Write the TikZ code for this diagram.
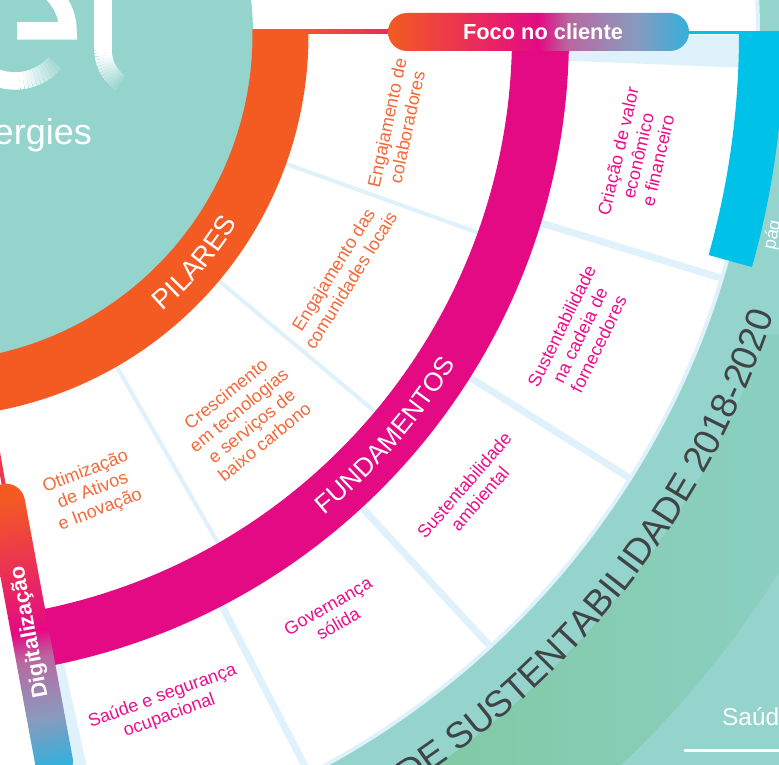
\documentclass[tikz,border=0pt]{standalone}
\usepackage{fontspec}
\setmainfont{Liberation Sans}
\usetikzlibrary{calc,decorations.text}
\definecolor{discteal}{HTML}{94D4CC}
\definecolor{ringgreen}{HTML}{80C8A0}
\definecolor{ringteal}{HTML}{8BD0C4}
\definecolor{pilarorange}{HTML}{F35B22}
\definecolor{fundpink}{HTML}{E30A84}
\definecolor{focoblue}{HTML}{00C1E8}
\definecolor{cellblue}{HTML}{DFF1FB}
\definecolor{labelorange}{HTML}{F4693A}
\definecolor{labelpink}{HTML}{EC0F8C}
\definecolor{plangrey}{HTML}{404445}
\definecolor{pillmauve}{HTML}{B868A0}
\definecolor{pillgrey}{HTML}{8A9ABE}
\definecolor{pillend}{HTML}{34B0DC}
\pgfdeclarehorizontalshading{pillshade}{100bp}{color(0bp)=(pilarorange); color(25bp)=(pilarorange); color(50bp)=(fundpink); color(55bp)=(pillmauve); color(66bp)=(pillgrey); color(75bp)=(pillend); color(100bp)=(pillend)}
\newcommand{\txtsize}[1]{\fontsize{#1}{#1}\selectfont}
\tikzstyle{pill}=[rounded corners=19pt,minimum width=301pt,minimum height=38pt,inner sep=0pt,shading=pillshade,text=white,font=\bfseries\fontsize{21.8}{22}\selectfont]
\tikzstyle{orlabel}=[text=labelorange,font=\fontsize{18}{20.5}\selectfont,inner sep=0pt]
\tikzstyle{pklabel}=[text=labelpink,font=\fontsize{18}{20.5}\selectfont,inner sep=0pt]
\tikzset{sep/.style={cellblue,line width=#1}}
\tikzstyle{logo}=[white,line width=17.5pt]

\begin{document}
\begin{tikzpicture}[x=1pt,y=1pt,every text node part/.style={align=center}]
  \clip (0,0) rectangle (779,765);
  \fill[discteal] (0,0) rectangle (779,765);

  % rings around the centre
  \begin{scope}[shift={(-74,730)}]
    \begin{scope}
      \clip (0,0) circle (1008);
      \shade[left color=ringgreen,right color=ringteal] (460,-765) rectangle (880,-300);
    \end{scope}
    \fill[discteal] (0,0) circle (891);
    \fill[cellblue] (0,0) circle (834);
    \fill[white] (0,0) circle (830);

    % cell separators
    \foreach \a in {-17,-32.2,-47.3,-62.6}
      \draw[sep=7pt] (\a:640) -- (\a:830);
    \foreach \a in {-19.7,-40,-60.1}
      \draw[sep=4pt] (\a:380) -- (\a:588);
    \fill[cellblue] (-2.3:640) -- (-2.3:815) -- (0:815) -- (0:640) -- cycle;
    \fill[cellblue] (-77.6:640) -- (-77.6:830) -- (-81:830) -- (-81:640) -- cycle;

    \draw[fundpink,line width=57pt] (-80:614.5) arc[start angle=-80,end angle=0,radius=614.5];
    \fill[discteal] (0,0) circle (327);
    \begin{scope}
      \clip (-100,-800) rectangle (1000,5);
      \draw[pilarorange,line width=56pt] (-100:354.5) arc[start angle=-100,end angle=5,radius=354.5];
    \end{scope}
    \begin{scope}
      \clip (-100,-800) rectangle (1000,3.5);
      \draw[focoblue,line width=45pt] (-15.7:835.5) arc[start angle=-15.7,end angle=5,radius=835.5];
    \end{scope}
    \draw[pilarorange!55!fundpink,line width=4pt] (-80.2:380) -- (-80.2:460);
  \end{scope}

  % thin lines into the pills
  \shade[left color=pilarorange,right color=pilarorange!35!fundpink] (300,731) rectangle (395,735);
  \fill[focoblue] (680,730.5) rectangle (760,733.5);

  % logo
  \draw[logo] (17,734) -- (68,734) arc[start angle=0,end angle=70,radius=53];
  \draw[logo] (-38,737) arc[start angle=180,end angle=275,radius=53];
  \foreach \s [evaluate=\s as \o using {100-(\s-275)*2.05}] in {275,279,...,315}
    \draw[logo,draw opacity=\o/100] (15,737)++(\s:53) arc[start angle=\s,delta angle=4,radius=53];
  \draw[logo] (103,770) -- (103,715);
  \foreach \s [evaluate=\s as \o using {100-(\s-186)*1.9}] in {180,184,...,232}
    \draw[logo,draw opacity={min(\o,100)/100}] (143,715)++(\s:40) arc[start angle=\s,delta angle=4,radius=40];
  \node[white,anchor=base east,inner sep=0pt,font=\txtsize{36}] (ergies) at (92,620) {ergies};

  % curved titles
  \begin{scope}[shift={(-74,730)}]
    \path[decorate,decoration={text along path,text={|\color{white}\txtsize{27.5}|PILARES}}]
      (-49.4:364) arc[start angle=-49.4,end angle=-20,radius=364];
    \path[decorate,decoration={text along path,text={|\color{white}\txtsize{26}|FUNDAMENTOS}}]
      (-50.3:624) arc[start angle=-50.3,end angle=-20,radius=624];
    \path[decorate,decoration={text along path,text={|\color{plangrey}\txtsize{36.7}|DE SUSTENTABILIDADE 2018-2020}}]
      (-57.4:893) arc[start angle=-57.4,end angle=-5,radius=893];
  \end{scope}

  \node[pill] (foco) at (538.5,733) {\hspace*{9pt}Foco no cliente};
  \node[pill,shading angle=-79.5,rotate=100.5] (digital) at (30,133) {Digitalização};

  \node[orlabel,rotate=78] (colab) at (397,640) {Engajamento de\\colaboradores};
  \node[orlabel,rotate=58] (comun) at (342,490) {Engajamento das\\comunidades locais};
  \node[orlabel,rotate=39] (cresc) at (245,347) {Crescimento\\em tecnologias\\e serviços de\\baixo carbono};
  \node[orlabel,rotate=21] (otim) at (93,274) {Otimização\\de Ativos\\e Inovação};
  \node[pklabel,rotate=77] (valor) at (638,609) {Criação de valor\\econômico\\e financeiro};
  \node[pklabel,rotate=64] (forn) at (580,430) {Sustentabilidade\\na cadeia de\\fornecedores};
  \node[pklabel,rotate=49] (amb) at (472,273) {Sustentabilidade\\ambiental};
  \node[pklabel,rotate=30] (gov) at (333,150) {Governança\\sólida};
  \node[pklabel,rotate=20] (saude) at (166,59) {Saúde e segurança\\ocupacional};

  \node[white,rotate=78,inner sep=0pt,font=\txtsize{18}] (pag) at (773,530) {pág};
  \node[white,anchor=base west,inner sep=0pt,font=\txtsize{24.4}] (saud) at (722,39) {Saúd};
  \coordinate (linea) at (685,14);
  \coordinate (lineb) at (785,14);
  \draw[white,line width=3pt,line cap=round] (linea) -- (lineb);
\end{tikzpicture}
\end{document}
